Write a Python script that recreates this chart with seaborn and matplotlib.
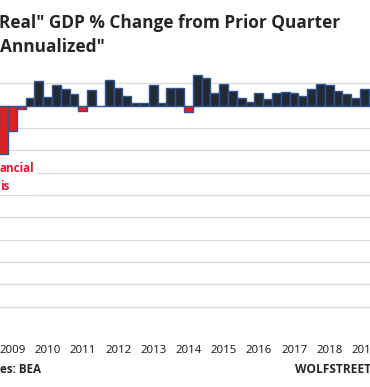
import numpy as np
import pandas as pd
import matplotlib
matplotlib.use("Agg")
import matplotlib.pyplot as plt
import seaborn as sns

# quarterly real GDP, % change from prior quarter, annualized
quarters = [str(p) for p in pd.period_range("2008Q4", "2019Q1", freq="Q")]
gdp_change = [-8.7, -4.6, -0.6, 1.4, 4.4, 1.6, 3.7, 3.0, 2.1, -1.0,
              2.8, -0.1, 4.6, 3.2, 1.7, 0.5, 0.5, 3.6, 0.5, 3.2,
              3.2, -1.1, 5.5, 5.0, 2.3, 3.9, 2.6, 1.4, 0.7, 2.3,
              1.2, 2.3, 2.5, 2.3, 1.7, 3.0, 3.9, 3.7, 2.6, 2.1,
              1.4, 3.0]
year_labels = ["2009", "2010", "2011", "2012", "2013", "2014",
               "2015", "2016", "2017", "2018", "2019"]

df = pd.DataFrame({"quarter": quarters, "change": gdp_change})
df["sign"] = np.where(df["change"] < 0, "neg", "pos")

sns.set_style("white")
plt.rcParams["font.family"] = ["Open Sans", "DejaVu Sans"]

W, H = 370, 387
fig = plt.figure(figsize=(W / 100, H / 100), dpi=100)
# plot area is cropped: it runs past both side edges of the picture
# y from -40 (px 329.3) to +8 (px 60.9); gridlines only up to +4
ax = fig.add_axes([0, 1 - 329.3 / H, 1, (329.3 - 60.9) / H])

sns.barplot(data=df, x="quarter", y="change", hue="sign",
            palette={"neg": "#FF0000", "pos": "#222A35"},
            dodge=False, width=1.0, edgecolor="#2F5597", linewidth=1.0,
            errorbar=None, legend=False, ax=ax)

ax.set_xlim(-0.42, 41.63)
ax.set_ylim(-40.05, 8)
ax.set_yticks(range(-40, 5, 4))
ax.set_yticklabels([])
ax.yaxis.grid(True, color="#D9D9D9", lw=0.9)
ax.xaxis.grid(False)
ax.set_axisbelow(True)

q1_pos = [i for i, q in enumerate(quarters) if q.endswith("Q1")]
ax.set_xticks(q1_pos, year_labels)
ax.tick_params(axis="both", length=0)
ax.tick_params(axis="x", pad=11.5, labelsize=8.2, labelcolor="#111111")
ax.set_xlabel("")
ax.set_ylabel("")
sns.despine(ax=ax, left=True, bottom=True)

# title (left part cut off in the crop)
fig.text(-1 / W, 1 - 27.5 / H, 'Real" GDP % Change from Prior Quarter',
         fontsize=12.4, fontweight="bold", va="baseline", ha="left")
fig.text(-0.5 / W, 1 - 52 / H, 'Annualized"',
         fontsize=12.4, fontweight="bold", va="baseline", ha="left")

# crisis note
fig.text(0, 1 - 189.5 / H, "ancial\nis", fontsize=8.4, fontweight="bold",
         color="#EE1133", va="baseline", ha="left", linespacing=1.45,
         bbox=dict(facecolor="white", edgecolor="none", pad=2))

# footer
fig.text(-0.5 / W, 1 - 373 / H, "es: BEA", fontsize=8.4, fontweight="bold",
         va="baseline", ha="left")
fig.text(295 / W, 1 - 373 / H, "WOLFSTREET.com", fontsize=8.6, fontweight="bold",
         va="baseline", ha="left")

fig.savefig("out.png", dpi=100)
